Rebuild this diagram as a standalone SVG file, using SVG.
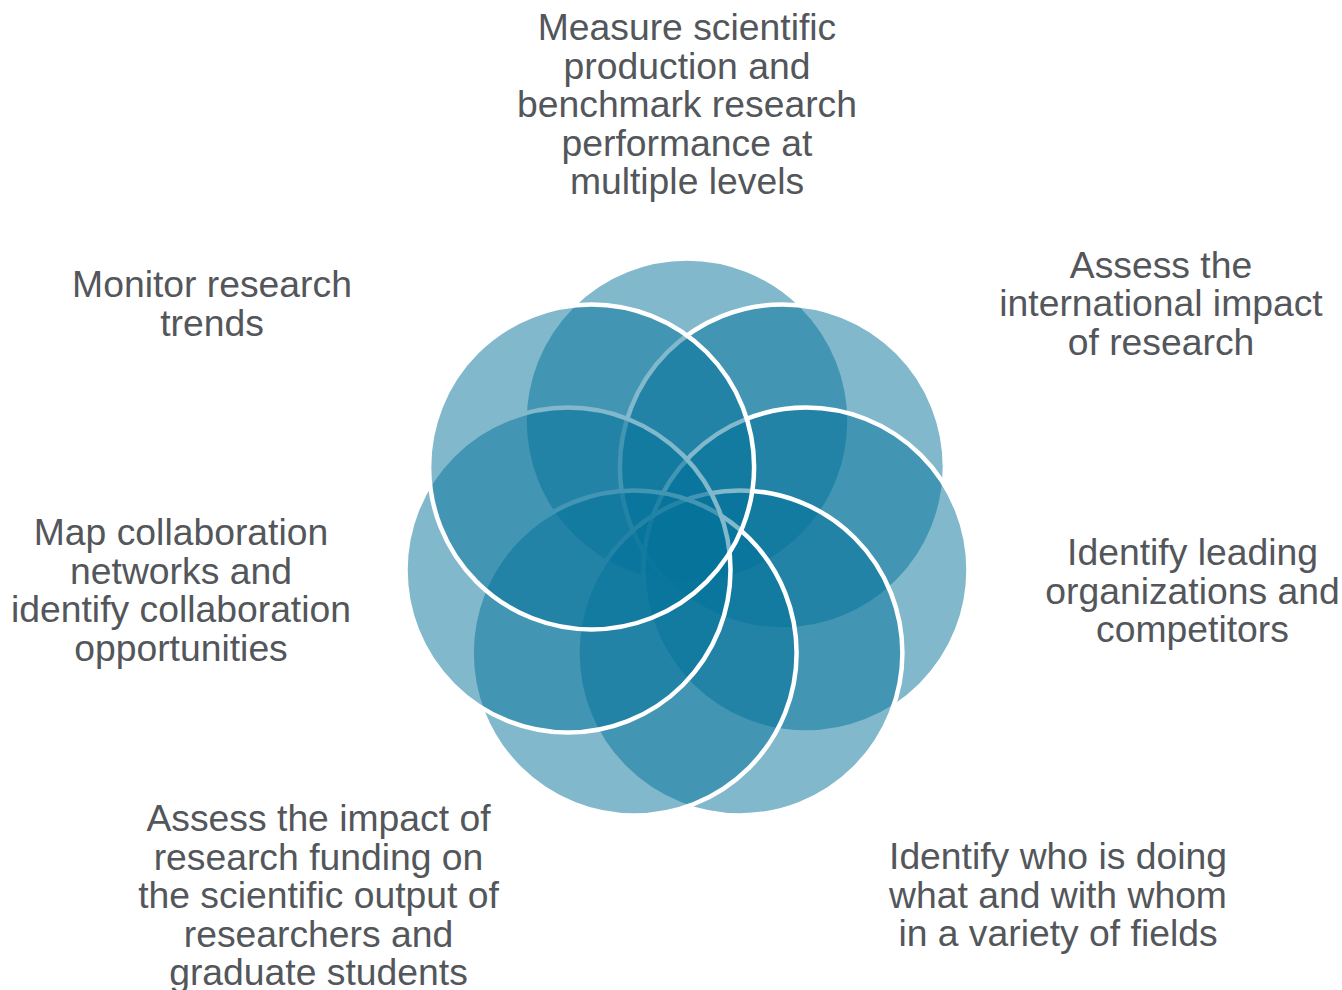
<svg xmlns="http://www.w3.org/2000/svg" width="1342" height="990" viewBox="0 0 1342 990">
<style>
.petal{fill:#04729a;fill-opacity:0.5;stroke:#ffffff;stroke-width:4.5}
.lbl{font-family:"Liberation Sans",Arial,sans-serif;font-size:37.3px;fill:#53565a;text-anchor:middle}
</style>
<rect x="0" y="0" width="1342" height="990" fill="#ffffff"/>
<g id="node-measure">
<circle class="petal" cx="687" cy="421" r="162.5"/>
<text class="lbl"><tspan x="687" y="40">Measure scientific</tspan><tspan x="687" y="78.6">production and</tspan><tspan x="687" y="117.2">benchmark research</tspan><tspan x="687" y="155.8">performance at</tspan><tspan x="687" y="194.4">multiple levels</tspan></text>
</g>
<g id="node-international">
<circle class="petal" cx="782.4" cy="466.9" r="162.5"/>
<text class="lbl"><tspan x="1161" y="277.7">Assess the</tspan><tspan x="1161" y="316.2">international impact</tspan><tspan x="1161" y="354.7">of research</tspan></text>
</g>
<g id="node-leading">
<circle class="petal" cx="806" cy="570.1" r="162.5"/>
<text class="lbl"><tspan x="1192.5" y="565">Identify leading</tspan><tspan x="1192.5" y="603.5">organizations and</tspan><tspan x="1192.5" y="642">competitors</tspan></text>
</g>
<g id="node-who">
<circle class="petal" cx="739.9" cy="652.9" r="162.5"/>
<text class="lbl"><tspan x="1058" y="869.2">Identify who is doing</tspan><tspan x="1058" y="907.7">what and with whom</tspan><tspan x="1058" y="946.2">in a variety of fields</tspan></text>
</g>
<g id="node-funding">
<circle class="petal" cx="634.1" cy="652.9" r="162.5"/>
<text class="lbl"><tspan x="318.5" y="831.3">Assess the impact of</tspan><tspan x="318.5" y="869.8">research funding on</tspan><tspan x="318.5" y="908.3">the scientific output of</tspan><tspan x="318.5" y="946.8">researchers and</tspan><tspan x="318.5" y="985.3">graduate students</tspan></text>
</g>
<g id="node-collaboration">
<circle class="petal" cx="568" cy="570.1" r="162.5"/>
<text class="lbl"><tspan x="181" y="545">Map collaboration</tspan><tspan x="181" y="583.5">networks and</tspan><tspan x="181" y="622">identify collaboration</tspan><tspan x="181" y="660.5">opportunities</tspan></text>
</g>
<g id="node-trends">
<circle class="petal" cx="591.6" cy="466.9" r="162.5"/>
<text class="lbl"><tspan x="212" y="297">Monitor research</tspan><tspan x="212" y="335.5">trends</tspan></text>
</g>
</svg>
